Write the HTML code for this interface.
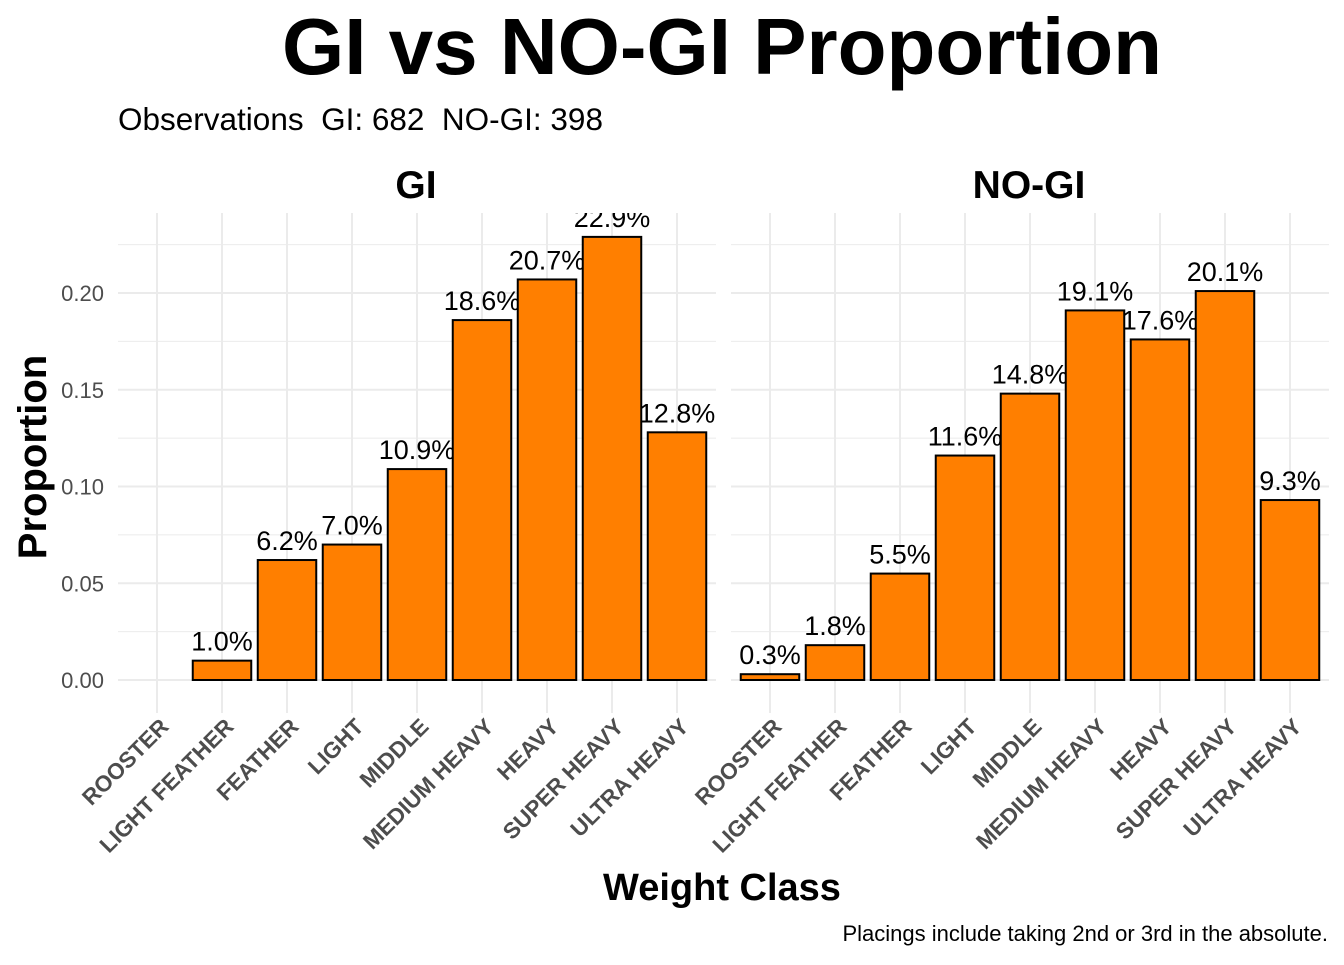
<!DOCTYPE html>
<html><head><meta charset="utf-8"><style>
body{margin:0;background:#fff}
svg text{font-family:"Liberation Sans",Arial,sans-serif;white-space:pre}
</style></head><body>
<svg id="chart" width="1344" height="960" xmlns="http://www.w3.org/2000/svg">
<rect width="1344" height="960" fill="#fff"/>
<text x="722" y="74" text-anchor="middle" font-size="80" font-weight="bold">GI vs NO-GI Proportion</text>
<text x="118" y="130" font-size="31.5" xml:space="preserve">Observations  GI: 682  NO-GI: 398</text>
<text x="416" y="198" text-anchor="middle" font-size="39" font-weight="bold">GI</text>
<text x="1029" y="198" text-anchor="middle" font-size="39" font-weight="bold">NO-GI</text>
<text transform="translate(46,457) rotate(-90)" text-anchor="middle" font-size="40" font-weight="bold">Proportion</text>
<text x="722" y="900" text-anchor="middle" font-size="38" font-weight="bold">Weight Class</text>
<text x="1328" y="941" text-anchor="end" font-size="22">Placings include taking 2nd or 3rd in the absolute.</text>
<defs>
<clipPath id="c0"><rect x="118" y="213" width="598" height="500"/></clipPath>
<clipPath id="c1"><rect x="731" y="213" width="598" height="500"/></clipPath>
</defs>
<g id="panels"></g>
</svg>
<script>
const categories=["ROOSTER","LIGHT FEATHER","FEATHER","LIGHT","MIDDLE","MEDIUM HEAVY","HEAVY","SUPER HEAVY","ULTRA HEAVY"];
const giValues=[0,0.010,0.062,0.070,0.109,0.186,0.207,0.229,0.128];
const nogiValues=[0.003,0.018,0.055,0.116,0.148,0.191,0.176,0.201,0.093];
const yTicks=[0,0.05,0.10,0.15,0.20];
const yTickLabels=["0.00","0.05","0.10","0.15","0.20"];
const panelNames=["gi","nogi"];

const NS="http://www.w3.org/2000/svg";
const g=document.getElementById("panels");
const y=v=>680-v*1935;
const panelLeft=[118,731], panelW=598, step=panelW/9.2;
function x(p,i){return panelLeft[p]+step*(0.6+i);}
function mk(t,a,parent){const e=document.createElementNS(NS,t);for(const k in a)e.setAttribute(k,a[k]);(parent||g).appendChild(e);return e;}
[giValues,nogiValues].forEach((vals,p)=>{
  const L=panelLeft[p];
  for(let k=0;k<5;k++){const v=0.025+0.05*k;
    const ln=mk("line",{x1:L,x2:L+panelW,y1:y(v),y2:y(v),stroke:"#ebebeb","stroke-width":1});
    
    }
  yTicks.forEach((v,k)=>{
    const ln=mk("line",{x1:L,x2:L+panelW,y1:y(v),y2:y(v),stroke:"#ebebeb","stroke-width":2});
    
    
    if(p===0){const t=mk("text",{x:104,y:y(v)+8,"text-anchor":"end","font-size":22,fill:"#4d4d4d"});t.textContent=yTickLabels[k];
      
      }
  });
  categories.forEach((c,i)=>{
    const ln=mk("line",{x1:x(p,i),x2:x(p,i),y1:213,y2:713,stroke:"#ebebeb","stroke-width":2});
    
    
  });
  const cg=mk("g",{"clip-path":`url(#c${p})`});
  categories.forEach((c,i)=>{
    const v=vals[i], cx=x(p,i), bw=step*0.9;
    if(v>0){const r=mk("rect",{x:cx-bw/2,y:y(v),width:bw,height:y(0)-y(v),fill:"#ff7f00",stroke:"#000","stroke-width":2},cg);
      
      }
    if(v>0){const t=mk("text",{x:cx,y:y(v)-10,"text-anchor":"middle","font-size":27},cg);t.textContent=(v*100).toFixed(1)+"%";
      
      }
    const t=mk("text",{transform:`translate(${cx+13},${728}) rotate(-45)`,"text-anchor":"end","font-size":22.5,"font-weight":"bold",fill:"#4d4d4d"});
    t.textContent=c;
    
    
  });
});
</script>
</body></html>
